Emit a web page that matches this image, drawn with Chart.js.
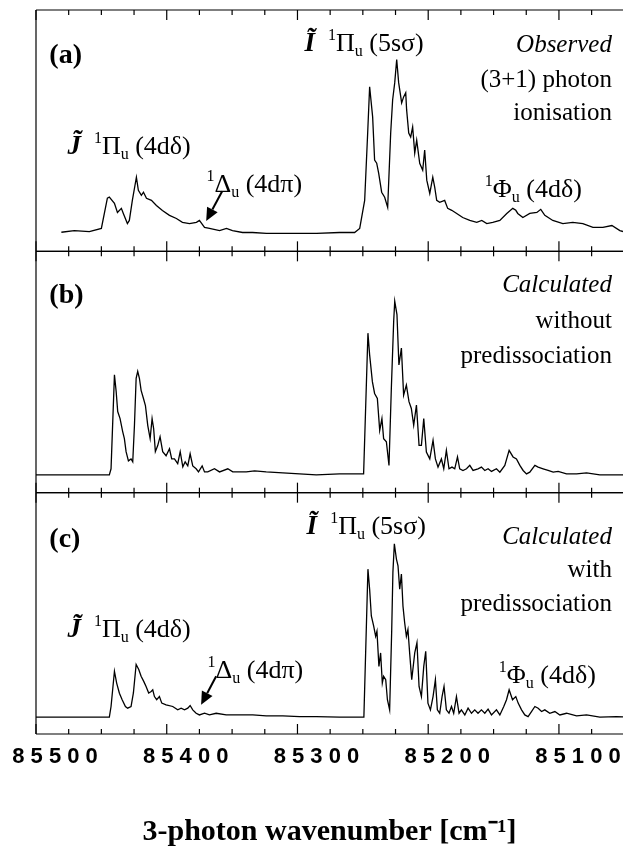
<!DOCTYPE html>
<html>
<head>
<meta charset="utf-8">
<script src="https://cdn.jsdelivr.net/npm/chart.js@4.4.1/dist/chart.umd.min.js"></script>
<style>
  html, body { margin: 0; padding: 0; background: #fff; }
  #wrap { position: relative; width: 623px; height: 850px; }
</style>
</head>
<body>
<div id="wrap"><canvas id="spec"></canvas></div>
<script>
// wavenumber axis (cm-1), reversed
const xMin = 85051;
const xMax = 85500;
const xTickValues = [85500, 85400, 85300, 85200, 85100];
const minorStep = 25;

// (a) observed (3+1) REMPI spectrum
const aWave = [85480.6, 85470.7, 85459.2, 85450.0, 85445.4, 85443.9, 85440.0, 85437.7, 85434.7, 85433.2,
  85430.1, 85428.6, 85426.3, 85423.2, 85421.7, 85419.4, 85417.8, 85415.5, 85411.7, 85407.9,
  85403.3, 85397.9, 85392.6, 85388.0, 85382.6, 85377.3, 85375.0, 85371.1, 85367.3, 85359.6,
  85354.3, 85349.7, 85342.0, 85334.4, 85323.7, 85311.4, 85298.4, 85285.4, 85267.8, 85256.3,
  85252.4, 85248.6, 85246.3, 85244.8, 85242.5, 85241.0, 85239.4, 85237.9, 85235.6, 85233.3,
  85231.0, 85228.7, 85227.2, 85225.6, 85224.1, 85222.6, 85220.3, 85218.8, 85217.2, 85216.5,
  85214.9, 85213.4, 85211.9, 85210.3, 85208.8, 85206.5, 85204.2, 85202.7, 85201.1, 85198.8,
  85196.5, 85195.0, 85193.5, 85191.2, 85187.4, 85185.1, 85182.0, 85178.2, 85173.6, 85168.2,
  85162.9, 85159.0, 85155.2, 85150.6, 85145.2, 85139.9, 85135.3, 85133.0, 85131.5, 85127.6,
  85122.3, 85116.9, 85113.9, 85110.8, 85104.7, 85097.0, 85089.4, 85081.7, 85074.0, 85066.4,
  85059.5, 85053.4, 85051];
const aInt = [7.9, 8.6, 8.2, 9.5, 22.0, 22.5, 19.9, 16.1, 17.8, 15.7,
  11.5, 12.8, 21.1, 30.7, 25.3, 23.2, 24.5, 22.0, 21.1, 19.0,
  16.9, 14.9, 13.6, 12.0, 11.5, 12.0, 12.8, 9.9, 9.5, 8.6,
  9.5, 8.6, 7.8, 7.8, 7.4, 7.4, 7.4, 7.4, 7.8, 7.8,
  9.5, 21.1, 49.0, 68.2, 55.7, 37.8, 36.5, 32.4, 24.5, 22.4,
  18.2, 49.0, 62.8, 69.9, 79.5, 69.9, 61.5, 64.0, 65.7, 58.6,
  49.0, 47.4, 51.5, 40.7, 46.1, 36.5, 33.6, 42.0, 29.5, 24.0,
  30.7, 26.5, 21.1, 20.3, 21.1, 17.8, 17.0, 15.7, 14.0, 12.8,
  12.0, 12.8, 11.5, 12.0, 12.8, 15.7, 17.8, 17.0, 15.7, 14.0,
  15.7, 16.1, 17.4, 14.9, 12.8, 11.5, 12.0, 11.5, 9.9, 9.9,
  10.7, 8.6, 8.2];

// (b) calculated without predissociation
const bWave = [85500, 85466.8, 85443.9, 85442.6, 85440.0, 85438.7, 85437.5, 85435.7, 85433.7, 85432.4,
  85431.1, 85429.3, 85427.3, 85426.0, 85424.7, 85423.4, 85422.2, 85420.9, 85419.6, 85417.8,
  85416.3, 85414.5, 85412.7, 85411.2, 85410.0, 85408.7, 85406.9, 85405.1, 85403.1, 85400.5,
  85397.9, 85396.2, 85394.1, 85391.6, 85389.7, 85387.7, 85385.9, 85383.9, 85382.1, 85380.1,
  85377.5, 85375.7, 85372.9, 85371.1, 85368.6, 85363.5, 85359.6, 85353.3, 85349.5, 85339.2,
  85332.8, 85323.9, 85311.2, 85298.4, 85285.6, 85267.8, 85249.4, 85246.1, 85244.8, 85242.7,
  85241.0, 85238.9, 85237.1, 85235.4, 85234.1, 85232.0, 85230.0, 85228.2, 85226.4, 85225.6,
  85223.9, 85222.4, 85220.5, 85218.8, 85216.7, 85214.7, 85212.9, 85211.1, 85209.0, 85207.0,
  85205.2, 85203.4, 85201.4, 85198.8, 85196.3, 85194.5, 85192.5, 85189.9, 85188.1, 85186.1,
  85184.1, 85181.8, 85179.7, 85177.6, 85175.9, 85173.4, 85170.7, 85168.2, 85165.7, 85161.9,
  85159.3, 85156.7, 85154.2, 85151.6, 85147.8, 85145.2, 85141.4, 85138.1, 85135.1, 85132.5,
  85129.9, 85127.4, 85124.8, 85122.3, 85118.4, 85115.9, 85112.1, 85108.3, 85104.4, 85100.6,
  85094.2, 85086.5, 85078.9, 85068.7, 85055.9, 85051];
const bInt = [7.4, 7.4, 7.4, 9.9, 48.8, 42.0, 33.6, 30.7, 25.3, 22.4,
  17.0, 13.2, 14.0, 12.8, 27.8, 47.4, 50.3, 47.4, 42.4, 39.0,
  36.1, 27.8, 22.4, 30.7, 26.5, 17.0, 19.5, 23.2, 17.0, 15.3,
  18.2, 14.0, 14.0, 12.0, 17.0, 10.7, 12.8, 11.1, 16.1, 11.1,
  9.9, 8.6, 11.1, 8.6, 8.6, 9.9, 8.6, 9.9, 8.6, 8.6,
  9.0, 8.6, 8.2, 7.8, 7.4, 7.8, 7.8, 66.1, 57.1, 46.0,
  41.1, 39.0, 25.8, 30.7, 22.4, 21.1, 11.3, 43.2, 71.1, 79.3,
  73.8, 52.9, 59.9, 40.4, 44.6, 37.7, 34.9, 27.9, 36.3, 19.6,
  19.6, 30.7, 16.8, 14.0, 21.7, 14.0, 10.6, 14.0, 9.9, 17.5,
  9.9, 10.6, 9.9, 14.8, 9.9, 9.2, 9.9, 11.3, 9.2, 9.9,
  10.6, 9.2, 9.9, 8.8, 9.9, 8.5, 11.3, 17.5, 14.8, 14.0,
  11.3, 9.2, 7.8, 8.5, 11.3, 10.6, 9.9, 9.2, 8.5, 8.8,
  7.8, 7.8, 8.2, 7.4, 7.4, 7.4];

// (c) calculated with predissociation
const cWave = [85500, 85466.8, 85443.9, 85442.6, 85440.0, 85438.3, 85436.2, 85434.1, 85431.6, 85429.9,
  85427.3, 85425.5, 85423.4, 85421.4, 85419.6, 85417.6, 85415.8, 85413.8, 85411.9, 85410.7,
  85409.4, 85407.7, 85405.6, 85403.8, 85400.5, 85395.4, 85391.6, 85389.0, 85386.4, 85383.9,
  85382.1, 85380.1, 85377.5, 85375.0, 85371.1, 85367.3, 85362.2, 85354.5, 85344.3, 85334.2,
  85323.9, 85311.2, 85298.4, 85285.6, 85267.8, 85249.2, 85246.1, 85244.8, 85243.5, 85241.7,
  85240.2, 85239.2, 85237.7, 85236.4, 85235.1, 85234.1, 85232.5, 85231.2, 85229.5, 85227.9,
  85227.0, 85225.9, 85224.3, 85223.1, 85221.8, 85220.5, 85219.3, 85218.0, 85216.7, 85215.5,
  85214.2, 85212.6, 85210.3, 85208.6, 85207.0, 85205.2, 85203.4, 85201.9, 85200.2, 85198.3,
  85196.3, 85194.5, 85193.0, 85191.2, 85189.4, 85187.9, 85186.1, 85184.1, 85182.2, 85180.5,
  85178.4, 85176.4, 85174.6, 85172.0, 85169.5, 85166.9, 85164.4, 85161.9, 85159.3, 85156.7,
  85154.2, 85151.6, 85147.8, 85145.2, 85142.2, 85140.1, 85138.1, 85135.5, 85133.0, 85131.2,
  85128.6, 85126.1, 85123.6, 85121.0, 85118.4, 85115.9, 85113.3, 85110.8, 85107.0, 85103.1,
  85099.3, 85094.2, 85086.5, 85078.9, 85068.7, 85055.9, 85051];
const cInt = [7.0, 7.0, 7.0, 11.4, 26.0, 21.1, 16.9, 14.2, 11.4, 10.7,
  11.4, 17.0, 28.8, 26.7, 23.9, 21.8, 19.7, 17.0, 17.6, 18.3,
  15.5, 14.2, 15.5, 12.8, 12.1, 11.4, 10.0, 10.7, 10.0, 10.7,
  11.8, 10.0, 8.6, 7.9, 8.6, 7.9, 8.6, 7.9, 7.9, 7.9,
  7.5, 7.5, 7.2, 7.2, 7.0, 7.0, 68.3, 60.0, 48.9, 44.7,
  40.5, 42.6, 28.0, 33.6, 21.1, 23.9, 22.5, 14.2, 10.0, 43.3,
  67.0, 78.8, 72.5, 69.7, 60.0, 66.3, 53.0, 46.1, 40.5, 43.3,
  33.6, 22.5, 33.6, 37.8, 19.7, 15.5, 28.0, 34.3, 12.8, 10.0,
  15.5, 22.5, 10.0, 8.6, 15.5, 19.7, 10.0, 8.6, 11.4, 8.6,
  15.5, 8.6, 10.0, 7.9, 10.7, 8.6, 10.0, 8.6, 10.0, 8.6,
  10.3, 7.9, 10.0, 7.9, 11.4, 14.2, 18.3, 14.2, 15.5, 12.8,
  10.0, 7.9, 7.2, 9.3, 11.4, 10.7, 9.3, 10.0, 8.6, 9.3,
  7.9, 8.6, 7.5, 7.9, 7.0, 7.2, 7.1];

const SERIF = '"Liberation Serif", "Times New Roman", serif';
const SANS  = '"Liberation Sans", Arial, sans-serif';

// text styles for the annotations
const S = {
  tag  : { font: 'bold 28px ' + SERIF, dy: 0 },
  state: { font: 'bold italic 27px ' + SERIF, dy: 0 },
  rm   : { font: '26px ' + SERIF, dy: 0 },
  sup  : { font: '16px ' + SERIF, dy: -11 },
  sub  : { font: '16px ' + SERIF, dy: 5 },
  it   : { font: 'italic 25px ' + SERIF, dy: 0 },
  side : { font: '25px ' + SERIF, dy: 0 }
};

// annotations anchored in data units: [axis, wavenumber, intensity, align, parts]
const notes = [
  ['yA', 85489.8, 78.2, 'left', [['(a)', 'tag']]],
  ['yA', 85476.0, 40.3, 'left', [['J\u0303', 'state'], ['\u2002', 'rm'], ['1', 'sup'], ['\u03A0', 'rm'], ['u', 'sub'], [' (4d\u03B4)', 'rm']]],
  ['yA', 85369.6, 24.5, 'left', [['1', 'sup'], ['\u0394', 'rm'], ['u', 'sub'], [' (4d\u03C0)', 'rm']]],
  ['yA', 85294.6, 83.2, 'left', [['I\u0303', 'state'], ['\u2002', 'rm'], ['1', 'sup'], ['\u03A0', 'rm'], ['u', 'sub'], [' (5s\u03C3)', 'rm']]],
  ['yA', 85156.7, 22.4, 'left', [['1', 'sup'], ['\u03A6', 'rm'], ['u', 'sub'], [' (4d\u03B4)', 'rm']]],
  ['yA', 85059.5, 82.4, 'right', [['Observed', 'it']]],
  ['yA', 85059.5, 68.2, 'right', [['(3+1) photon', 'side']]],
  ['yA', 85059.5, 54.5, 'right', [['ionisation', 'side']]],

  ['yB', 85489.8, 78.6, 'left', [['(b)', 'tag']]],
  ['yB', 85059.5, 83.2, 'right', [['Calculated', 'it']]],
  ['yB', 85059.5, 68.2, 'right', [['without', 'side']]],
  ['yB', 85059.5, 53.6, 'right', [['predissociation', 'side']]],

  ['yC', 85489.8, 77.5, 'left', [['(c)', 'tag']]],
  ['yC', 85476.0, 40.0, 'left', [['J\u0303', 'state'], ['\u2002', 'rm'], ['1', 'sup'], ['\u03A0', 'rm'], ['u', 'sub'], [' (4d\u03B4)', 'rm']]],
  ['yC', 85368.8, 23.3, 'left', [['1', 'sup'], ['\u0394', 'rm'], ['u', 'sub'], [' (4d\u03C0)', 'rm']]],
  ['yC', 85293.0, 82.9, 'left', [['I\u0303', 'state'], ['\u2002', 'rm'], ['1', 'sup'], ['\u03A0', 'rm'], ['u', 'sub'], [' (5s\u03C3)', 'rm']]],
  ['yC', 85146.0, 21.3, 'left', [['1', 'sup'], ['\u03A6', 'rm'], ['u', 'sub'], [' (4d\u03B4)', 'rm']]],
  ['yC', 85059.5, 78.8, 'right', [['Calculated', 'it']]],
  ['yC', 85059.5, 65.0, 'right', [['with', 'side']]],
  ['yC', 85059.5, 50.8, 'right', [['predissociation', 'side']]]
];

// arrows: [axis, tail wn, tail int, head wn, head int]
const arrows = [
  ['yA', 85357.6, 24.9, 85369.8, 12.6],
  ['yC', 85362.2, 23.9, 85373.7, 12.1]
];

const panelAxes = ['yA', 'yB', 'yC'];

function toXY(wave, inten) {
  return wave.map((x, i) => ({ x: x, y: inten[i] }));
}

function drawRich(ctx, parts, x, y, align) {
  let w = 0;
  parts.forEach(p => { ctx.font = S[p[1]].font; w += ctx.measureText(p[0]).width; });
  let cx = align === 'right' ? x - w : x;
  parts.forEach(p => {
    ctx.font = S[p[1]].font;
    ctx.fillText(p[0], cx, y + S[p[1]].dy);
    cx += ctx.measureText(p[0]).width;
  });
}

const framePlugin = {
  id: 'frame',
  afterDatasetsDraw(chart) {
    const { ctx, chartArea: ca, scales } = chart;
    const xs = scales.x;
    ctx.save();
    ctx.strokeStyle = '#000';
    ctx.lineWidth = 1.2;

    panelAxes.forEach(id => {
      const s = scales[id];
      [s.top, s.bottom].forEach((yy, k) => {
        ctx.beginPath();
        ctx.moveTo(ca.left, yy);
        ctx.lineTo(ca.right, yy);
        ctx.stroke();
        for (let v = xMax; v >= xMin; v -= minorStep) {
          const px = xs.getPixelForValue(v);
          const len = v % 100 === 0 ? 10 : 5;
          ctx.beginPath();
          ctx.moveTo(px, yy);
          ctx.lineTo(px, k === 0 ? yy + len : yy - len);
          ctx.stroke();
        }
      });
    });

    ctx.beginPath();
    ctx.moveTo(ca.left, ca.top);
    ctx.lineTo(ca.left, ca.bottom);
    ctx.stroke();

    // arrows
    ctx.fillStyle = '#000';
    arrows.forEach(a => {
      const ys = scales[a[0]];
      const x1 = xs.getPixelForValue(a[1]), y1 = ys.getPixelForValue(a[2]);
      const x2 = xs.getPixelForValue(a[3]), y2 = ys.getPixelForValue(a[4]);
      const ang = Math.atan2(y2 - y1, x2 - x1);
      const hl = 13, hw = 6;
      const bx = x2 - hl * Math.cos(ang), by = y2 - hl * Math.sin(ang);
      ctx.lineWidth = 2;
      ctx.beginPath(); ctx.moveTo(x1, y1); ctx.lineTo(bx, by); ctx.stroke();
      ctx.beginPath();
      ctx.moveTo(x2, y2);
      ctx.lineTo(bx + hw * Math.sin(ang), by - hw * Math.cos(ang));
      ctx.lineTo(bx - hw * Math.sin(ang), by + hw * Math.cos(ang));
      ctx.closePath();
      ctx.fill();
    });

    // labels
    ctx.textBaseline = 'alphabetic';
    ctx.textAlign = 'left';
    notes.forEach(n => {
      const px = xs.getPixelForValue(n[1]);
      const py = scales[n[0]].getPixelForValue(n[2]);
      drawRich(ctx, n[4], px, py, n[3]);
    });
    ctx.restore();
  }
};

function panelScale(weight) {
  return {
    type: 'linear', position: 'left', stack: 'panels', stackWeight: 1, weight: weight,
    min: 0, max: 100, display: false
  };
}

const lineStyle = { borderColor: '#000', borderWidth: 1.3, pointRadius: 0, tension: 0, fill: false };

new Chart(document.getElementById('spec').getContext('2d'), {
  type: 'line',
  data: {
    datasets: [
      Object.assign({ label: '(a) Observed', data: toXY(aWave, aInt), yAxisID: 'yA' }, lineStyle),
      Object.assign({ label: '(b) Calculated without predissociation', data: toXY(bWave, bInt), yAxisID: 'yB' }, lineStyle),
      Object.assign({ label: '(c) Calculated with predissociation', data: toXY(cWave, cInt), yAxisID: 'yC' }, lineStyle)
    ]
  },
  options: {
    responsive: true,
    maintainAspectRatio: false,
    animation: false,
    events: [],
    layout: { padding: { left: 36, top: 10, right: 0, bottom: 0 } },
    plugins: { legend: { display: false }, tooltip: { enabled: false } },
    scales: {
      x: {
        type: 'linear', reverse: true, min: xMin, max: xMax,
        grid: { display: false, drawTicks: false },
        border: { display: false },
        afterBuildTicks: s => { s.ticks = xTickValues.map(v => ({ value: v })); },
        afterFit: s => { s.height = 116; s.paddingLeft = 0; s.paddingRight = 0; },
        ticks: {
          color: '#000',
          padding: 10,
          labelOffset: 19,
          maxRotation: 0,
          autoSkip: false,
          font: { family: SANS, size: 22, weight: 'bold' },
          callback: v => String(v).split('').join(' ')
        },
        title: {
          display: true,
          text: '3-photon wavenumber [cm\u207B\u00B9]',
          color: '#000',
          padding: { top: 0, bottom: 0 },
          font: { family: SERIF, size: 30, weight: 'bold' }
        }
      },
      yC: panelScale(1),
      yB: panelScale(2),
      yA: panelScale(3)
    }
  },
  plugins: [framePlugin]
});
</script>
</body>
</html>
